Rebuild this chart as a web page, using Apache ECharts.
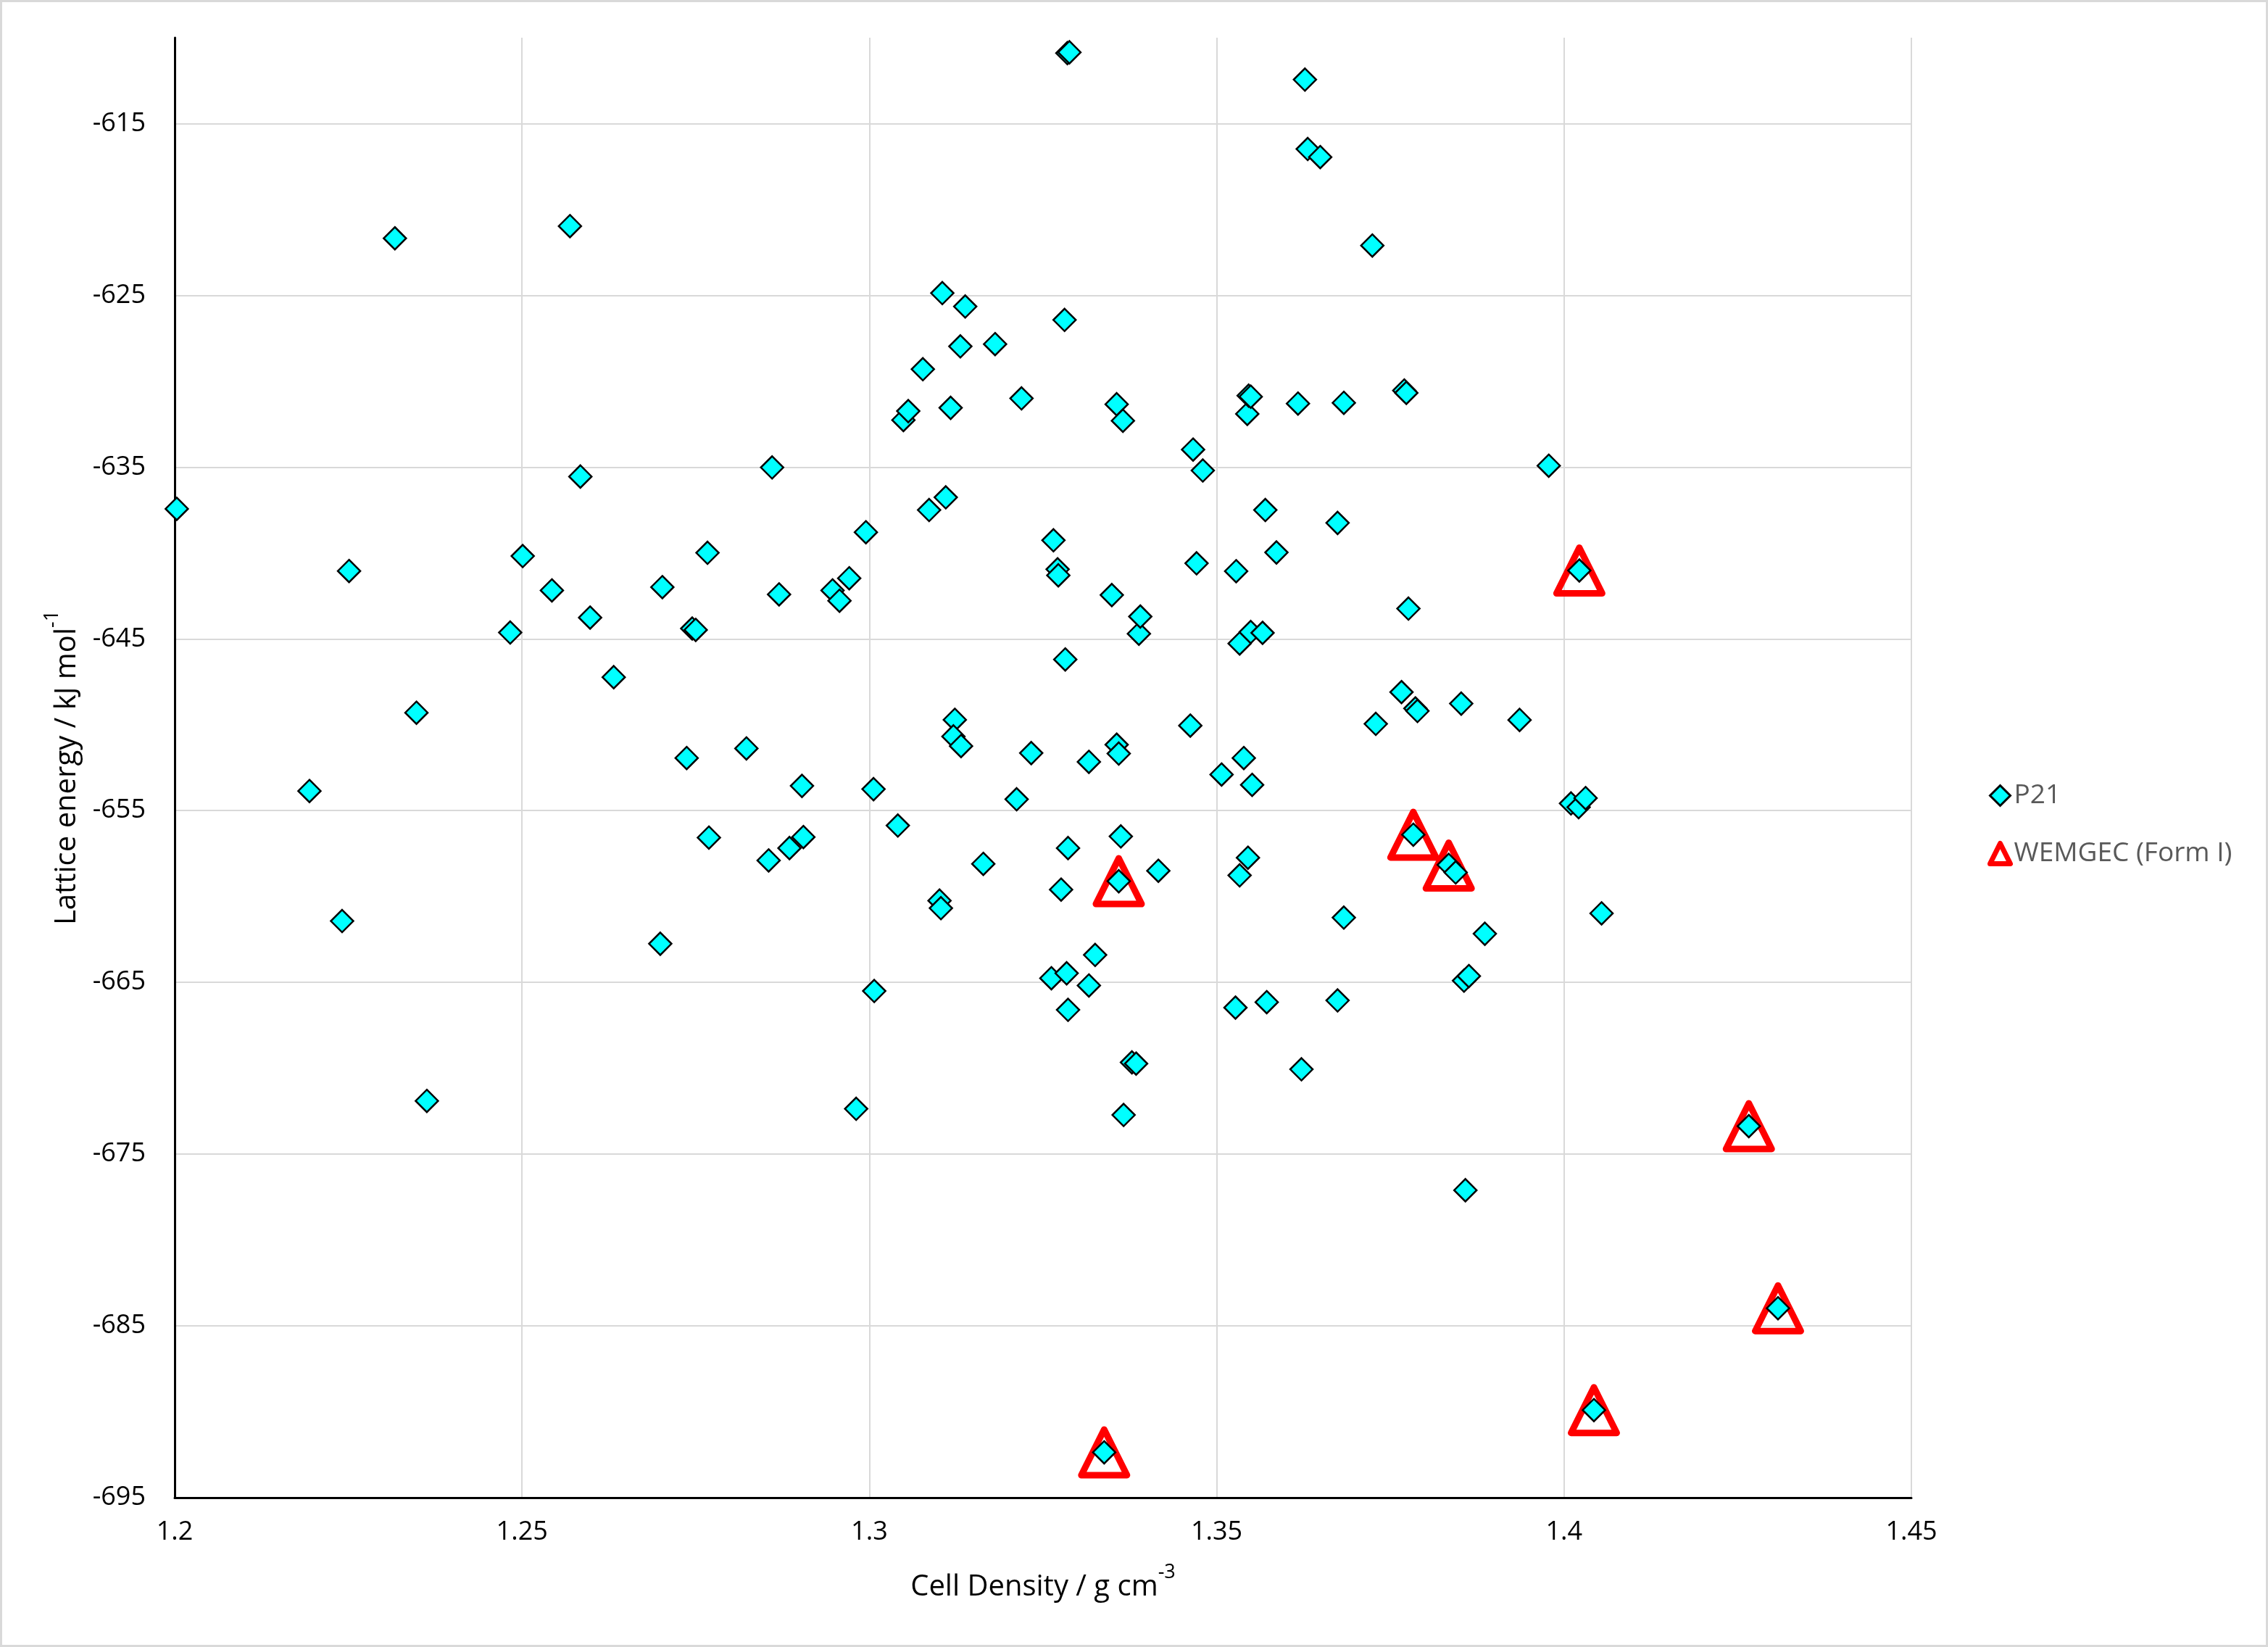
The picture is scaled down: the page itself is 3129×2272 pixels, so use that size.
<!DOCTYPE html>
<html>
<head>
<meta charset="utf-8">
<script src="https://cdn.jsdelivr.net/npm/echarts@6/dist/echarts.min.js"></script>
<style>
html,body{margin:0;padding:0;background:#fff;}
#chart{position:absolute;left:0;top:0;width:3129px;height:2272px;}
#frame{position:absolute;left:0;top:0;width:3129px;height:2272px;box-sizing:border-box;border:3px solid #d9d9d9;pointer-events:none;}
</style>
</head>
<body>
<div id="chart"></div>
<div id="frame"></div>
<script>
// ---- data ----
const p21Density = [
  1.2003, 1.2194, 1.2241, 1.2251, 1.2317, 1.2348, 1.2363, 1.2483, 1.2501, 1.2543,
  1.2569, 1.2584, 1.2598, 1.2632, 1.2699, 1.2702, 1.2737, 1.2745, 1.2750, 1.2767,
  1.2769, 1.2823, 1.2855, 1.2860, 1.2870, 1.2885, 1.2903, 1.2905, 1.2947, 1.2957,
  1.2971, 1.2981, 1.2995, 1.3006, 1.3007, 1.3041, 1.3049, 1.3056, 1.3077, 1.3086,
  1.3105, 1.3110, 1.3117, 1.3123, 1.3121, 1.3132, 1.3131, 1.3138, 1.3101, 1.3103,
  1.3164, 1.3181, 1.3212, 1.3219, 1.3233, 1.3262, 1.3265, 1.3271, 1.3272, 1.3276,
  1.3281, 1.3282, 1.3284, 1.3286, 1.3286, 1.3285, 1.3288, 1.3316, 1.3316, 1.3338,
  1.3349, 1.3356, 1.3356, 1.3359, 1.3359, 1.3362, 1.3365, 1.3366, 1.3325, 1.3378,
  1.3384, 1.3388, 1.3390, 1.3416, 1.3462, 1.3466, 1.3471, 1.3480, 1.3507, 1.3527,
  1.3528, 1.3533, 1.3533, 1.3539, 1.3544, 1.3545, 1.3546, 1.3549, 1.3549, 1.3551,
  1.3566, 1.3570, 1.3572, 1.3586, 1.3617, 1.3622, 1.3627, 1.3631, 1.3649, 1.3674,
  1.3674, 1.3683, 1.3683, 1.3724, 1.3729, 1.3766, 1.3770, 1.3773, 1.3776, 1.3783,
  1.3786, 1.3789, 1.3834, 1.3844, 1.3852, 1.3856, 1.3858, 1.3863, 1.3886, 1.3936,
  1.3978, 1.4010, 1.4021, 1.4022, 1.4031, 1.4043, 1.4054, 1.4266, 1.4308
];
const p21Energy = [
  -637.43, -653.86, -661.43, -641.05, -621.68, -649.30, -671.90, -644.63, -640.18, -642.18,
  -620.97, -635.55, -643.76, -647.23, -662.75, -641.99, -651.94, -644.40, -644.48, -639.99,
  -656.57, -651.38, -657.90, -635.02, -642.41, -657.18, -653.56, -656.54, -642.18, -642.78,
  -641.47, -672.36, -638.79, -653.75, -665.50, -655.87, -632.26, -631.74, -629.30, -637.50,
  -624.87, -636.76, -631.55, -649.71, -650.68, -651.24, -627.97, -625.65, -660.24, -660.68,
  -658.10, -627.84, -654.34, -631.00, -651.65, -664.76, -639.26, -640.95, -641.30, -659.60,
  -626.43, -646.20, -664.47, -657.18, -666.60, -610.90, -610.85, -652.16, -665.18, -692.36,
  -642.45, -631.34, -651.16, -651.68, -659.11, -656.50, -632.30, -672.72, -663.40, -669.66,
  -669.73, -644.70, -643.70, -658.50, -650.05, -633.98, -640.60, -635.20, -652.90, -666.47,
  -641.06, -658.77, -645.27, -651.94, -631.90, -657.74, -630.84, -630.90, -644.60, -653.50,
  -644.65, -637.50, -666.15, -639.97, -631.30, -670.06, -612.44, -616.48, -616.95, -638.25,
  -666.05, -631.26, -661.23, -622.10, -649.95, -648.10, -630.54, -630.68, -643.24, -656.40,
  -649.05, -649.20, -658.16, -658.60, -648.77, -664.90, -677.10, -664.63, -662.17, -649.72,
  -634.92, -654.58, -654.80, -641.02, -654.27, -689.90, -660.98, -673.37, -683.97
];
const formIDensity = [1.3338, 1.3359, 1.3783, 1.3834, 1.4022, 1.4043, 1.4266, 1.4308];
const formIEnergy  = [-692.36, -659.11, -656.40, -658.20, -641.02, -689.90, -673.37, -683.97];

const xTicks = {min: 1.2, max: 1.45, step: 0.05};
const yTicks = {min: -695, max: -610, step: 10};

const seriesNames = ['P21', 'WEMGEC (Form I)'];

// ---- build ----
const p21 = p21Density.map((d, i) => [d, p21Energy[i]]);
const formI = formIDensity.map((d, i) => [d, formIEnergy[i]]);

const FONT = '"Open Sans", "Noto Sans", "DejaVu Sans", sans-serif';

const titleRich = {
  a: {fontSize: 40, lineHeight: 54, fontFamily: FONT, color: '#000000', verticalAlign: 'bottom'},
  s: {fontSize: 27, lineHeight: 33, fontFamily: FONT, color: '#000000', verticalAlign: 'top'}
};

const chart = echarts.init(document.getElementById('chart'), null, {renderer: 'canvas'});
chart.setOption({
  animation: false,
  backgroundColor: '#ffffff',
  grid: {left: 241, top: 52, width: 2396, height: 2014, containLabel: false},
  legend: {
    orient: 'vertical',
    left: 2737,
    top: 1074,
    itemWidth: 28,
    itemHeight: 28,
    itemGap: 43,
    textStyle: {color: '#595959', fontSize: 37, fontFamily: FONT},
    data: [
      {name: seriesNames[0], icon: 'diamond',
       itemStyle: {color: '#00FFFF', borderColor: '#000000', borderWidth: 3}},
      {name: seriesNames[1], icon: 'triangle',
       itemStyle: {color: '#ffffff', borderColor: '#FF0000', borderWidth: 7, borderJoin: 'round'}}
    ]
  },
  xAxis: {
    type: 'value',
    min: xTicks.min, max: xTicks.max, interval: xTicks.step,
    axisLine: {show: true, onZero: false, lineStyle: {color: '#000000', width: 3}},
    axisTick: {show: false},
    axisLabel: {color: '#000000', fontSize: 36, fontFamily: FONT, margin: 30},
    splitLine: {show: true, lineStyle: {color: '#d9d9d9', width: 2}},
    name: '{a|Cell Density / g cm}{s|-3}',
    nameLocation: 'middle',
    nameGap: 90,
    nameTextStyle: {color: '#000000', fontFamily: FONT, rich: titleRich}
  },
  yAxis: {
    type: 'value',
    min: yTicks.min, max: yTicks.max, interval: yTicks.step,
    axisLine: {show: true, onZero: false, lineStyle: {color: '#000000', width: 3}},
    axisTick: {show: false},
    axisLabel: {color: '#000000', fontSize: 36, fontFamily: FONT, margin: 40, showMaxLabel: false},
    splitLine: {show: true, showMaxLine: false, lineStyle: {color: '#d9d9d9', width: 2}},
    name: '{a|Lattice energy / kJ mol}{s|-1}',
    nameLocation: 'middle',
    nameRotate: 90,
    nameGap: 128,
    nameTextStyle: {color: '#000000', fontFamily: FONT, rich: titleRich}
  },
  series: [
    {
      name: seriesNames[1], type: 'scatter', data: formI, z: 2,
      symbol: 'triangle', symbolSize: 63,
      itemStyle: {color: 'rgba(255,255,255,0)', borderColor: '#FF0000', borderWidth: 9, borderJoin: 'round', opacity: 1},
      emphasis: {disabled: true}
    },
    {
      name: seriesNames[0], type: 'scatter', data: p21, z: 3,
      symbol: 'diamond', symbolSize: 31,
      itemStyle: {color: '#00FFFF', borderColor: '#000000', borderWidth: 2.5, opacity: 1},
      emphasis: {disabled: true}
    }
  ]
});
</script>
</body>
</html>
